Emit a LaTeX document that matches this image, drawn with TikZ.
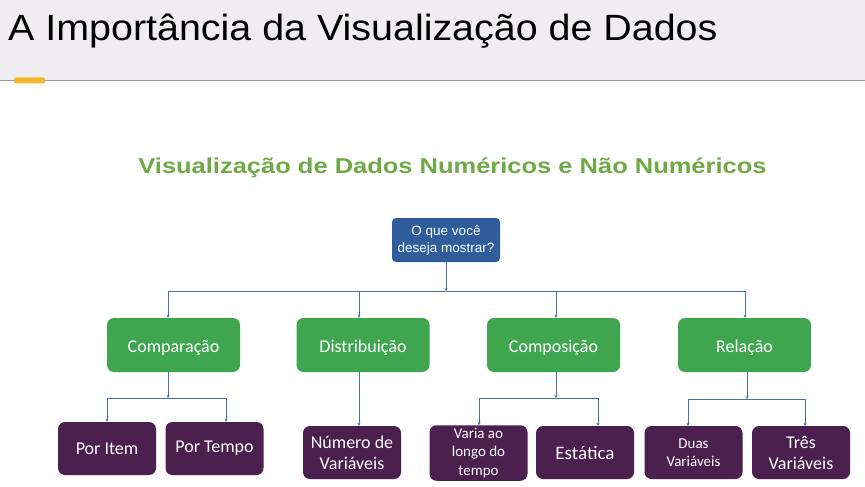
\documentclass[tikz,border=0pt]{standalone}
\usepackage{fontspec}
\setmainfont{Liberation Sans}
\newfontfamily\calib{Carlito}
\usetikzlibrary{arrows.meta}
\definecolor{hdrbg}{HTML}{EFEDF0}
\definecolor{hdrline}{HTML}{9A9A9A}
\definecolor{tabyel}{HTML}{F4B82A}
\definecolor{subgreen}{HTML}{6FAA46}
\definecolor{topblue}{HTML}{2F5D9C}
\definecolor{boxgreen}{HTML}{3FA64F}
\definecolor{boxplum}{HTML}{4B1F4E}
\definecolor{conn}{HTML}{4A6FA5}
\tikzset{
  topbox/.style={fill=topblue, rounded corners=4pt, text=white, align=center, font=\fontsize{13.5}{17}\selectfont, minimum width=108pt, minimum height=44pt, inner sep=0pt},
  catbox/.style={fill=boxgreen, rounded corners=7pt, text=white, align=center, font=\calib\fontsize{18}{21}\selectfont, minimum width=133pt, minimum height=54pt, inner sep=0pt, text height=14pt, text depth=0pt},
  leafbox/.style={fill=boxplum, rounded corners=7pt, text=white, align=center, font=\calib\fontsize{18}{21}\selectfont, minimum width=98pt, minimum height=53pt, inner sep=0pt},
  smallleaf/.style={leafbox, font=\calib\fontsize{15}{18.5}\selectfont},
  link/.style={draw=conn, line width=0.8pt},
  arr/.style={link, -{Stealth[length=3pt,width=3pt]}}
}
\begin{document}
\begin{tikzpicture}[x=1pt,y=-1pt]
\useasboundingbox (0,0) rectangle (865,487);
\fill[white] (0,0) rectangle (865,487);
% header
\fill[hdrbg] (0,0) rectangle (865,81);
\draw[hdrline, line width=1pt] (0,81) -- (865,81);
\fill[tabyel, rounded corners=1.5pt] (14,77.5) rectangle (45,83.5);
\node[anchor=base west, inner sep=0pt, font=\fontsize{36.5}{42}\selectfont] (title) at (8,41) {\scalebox{1.08}[1]{A Importância da Visualização de Dados}};
% subtitle
\node[anchor=base, inner sep=0pt, text=subgreen, font=\bfseries\fontsize{21.5}{25}\selectfont] (sub) at (452.5,173) {\scalebox{1.185}[1]{Visualização de Dados Numéricos e Não Numéricos}};
% top
\node[topbox] (top) at (446,240) {O que você\\deseja mostrar?};
% categories
\node[catbox] (comp) at (173.5,345) {Comparação};
\node[catbox] (dist) at (363,345) {Distribuição};
\node[catbox] (compo) at (553.5,345) {Composição};
\node[catbox] (rel) at (744.5,345) {Relação};
% leaves
\node[leafbox] (item) at (107,448.5) {Por Item};
\node[leafbox] (tempo) at (214.5,448.5) {Por Tempo};
\node[leafbox] (num) at (352,452.5) {Número de\\Variáveis};
\node[smallleaf] (varia) at (478.5,453) {\raisebox{-3pt}{\begin{tabular}{@{}c@{}}Varia ao\\longo do\\tempo\end{tabular}}};
\node[leafbox, font=\calib\fontsize{19}{22}\selectfont] (est) at (585,452.5) {Estática};
\node[smallleaf] (duas) at (693.5,452.5) {Duas\\Variáveis};
\node[leafbox] (tres) at (801,452.5) {Três\\Variáveis};
% bar coordinates
\coordinate (bmid) at (446,291);
\coordinate (bA) at (168,291);
\coordinate (bB) at (359,291);
\coordinate (bC) at (556,291);
\coordinate (bD) at (745,291);
\coordinate (cA) at (168,398);
\coordinate (cAl) at (107,398);
\coordinate (cAr) at (226,398);
\coordinate (cB) at (359,372);
\coordinate (cC) at (556,398);
\coordinate (cCl) at (479,398);
\coordinate (cCr) at (598,398);
\coordinate (cD) at (747,399);
\coordinate (cDl) at (688,399);
\coordinate (cDr) at (805,399);
% connectors
\draw[arr] (top.south) -- (bmid);
\draw[link] (bA) -- (bD);
\draw[arr] (bA) -- (bA |- comp.north);
\draw[arr] (bB) -- (bB |- dist.north);
\draw[arr] (bC) -- (bC |- compo.north);
\draw[arr] (bD) -- (bD |- rel.north);
% comparacao
\draw[arr] (cA |- comp.south) -- (cA);
\draw[link] (cAl) -- (cAr);
\draw[arr] (cAl) -- (cAl |- item.north);
\draw[arr] (cAr) -- (cAr |- tempo.north);
% distribuicao
\draw[arr] (cB) -- (cB |- num.north);
% composicao
\draw[arr] (cC |- compo.south) -- (cC);
\draw[link] (cCl) -- (cCr);
\draw[arr] (cCl) -- (cCl |- varia.north);
\draw[arr] (cCr) -- (cCr |- est.north);
% relacao
\draw[arr] (cD |- rel.south) -- (cD);
\draw[link] (cDl) -- (cDr);
\draw[arr] (cDl) -- (cDl |- duas.north);
\draw[arr] (cDr) -- (cDr |- tres.north);
\end{tikzpicture}
\end{document}
